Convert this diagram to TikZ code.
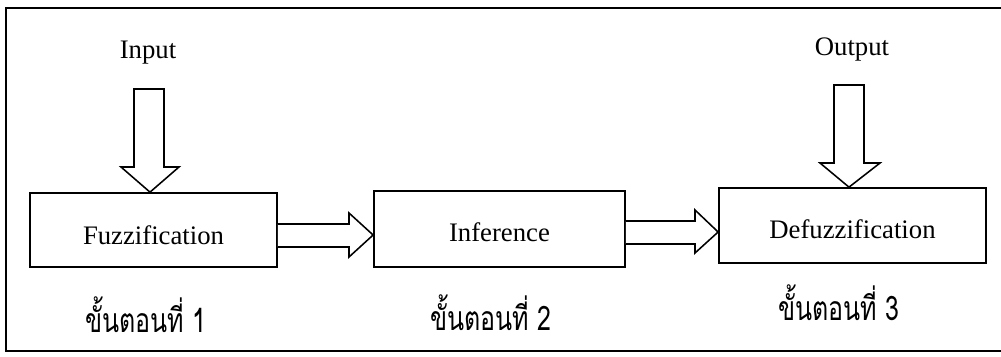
\documentclass[tikz,border=0pt]{standalone}
\usepackage{fontspec}
\setmainfont{Liberation Serif}
\newfontfamily\thaifont[Script=Thai, FakeStretch=0.74]{Loma}
\usetikzlibrary{calc}
\begin{document}
\begin{tikzpicture}[x=0.025cm,y=-0.025cm,
  box/.style={draw, line width=1.2pt, inner sep=0pt, text depth=0pt, font=\fontsize{19}{22}\selectfont},
  lbl/.style={inner sep=0pt, anchor=base, font=\fontsize{19}{22}\selectfont},
  thai/.style={inner sep=0pt, anchor=base west, font=\thaifont\fontsize{24}{28}\selectfont},
  blk/.style={draw, line width=1.1pt, fill=white, line join=miter},
  frame/.style={draw, line width=1.3pt}]
\useasboundingbox (0,0) rectangle (1001,356);
% outer frame (open on the right edge)
\draw[frame] (1001,8) -- (6,8) -- (6,351) -- (1001,351);
% boxes
\node[box, minimum width=6.175cm, minimum height=1.85cm, text height=0.74cm] (fuzz) at (153.5,230) {Fuzzification};
\node[box, minimum width=6.275cm, minimum height=1.9cm, text height=0.64cm] (inf) at (499.5,229) {Inference};
\node[box, minimum width=6.675cm, minimum height=1.875cm, text height=0.665cm] (defz) at (852.5,225.5) {Defuzzification};
% top labels
\node[lbl] (inp) at (148,58) {Input};
\node[lbl] (outp) at (852,55) {Output};
% step labels
\node[thai] (s1) at (85,332) {ขั้นตอนที่ 1};
\node[thai] (s2) at (430,330) {ขั้นตอนที่ 2};
\node[thai] (s3) at (778,320) {ขั้นตอนที่ 3};
% block arrows
\draw[blk] (134,89) -- (134,167) -- (121,167) -- ($(fuzz.north)+(-3.5,0)$) -- (179,167) -- (164,167) -- (164,89) -- cycle;
\draw[blk] (834,85) -- (834,163) -- (820,163) -- ($(defz.north)+(-3.5,0)$) -- (880,163) -- (864,163) -- (864,85) -- cycle;
\draw[blk] ($(fuzz.east)+(0,-6)$) -- (349,224) -- (349,213) -- ($(inf.west)+(0,6)$) -- (349,257) -- (349,247) -- ($(fuzz.east)+(0,17)$);
\draw[blk] ($(inf.east)+(0,-8)$) -- (695,221) -- (695,210) -- ($(defz.west)+(0,6.5)$) -- (695,253) -- (695,244) -- ($(inf.east)+(0,15)$);
\end{tikzpicture}
\end{document}
